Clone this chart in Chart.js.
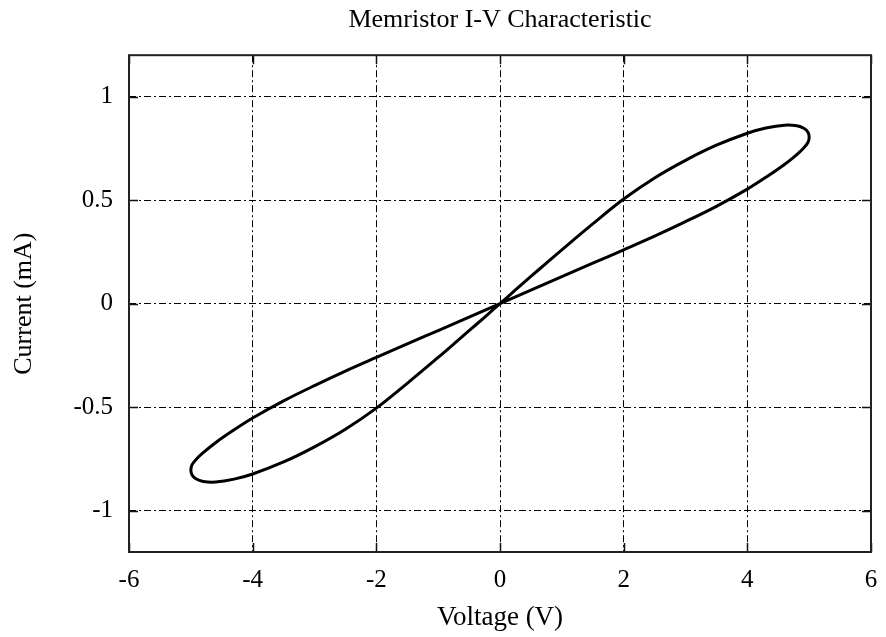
<!DOCTYPE html>
<html>
<head>
<meta charset="utf-8">
<script src="https://cdn.jsdelivr.net/npm/chart.js@4.4.1/dist/chart.umd.min.js"></script>
<style>
  html, body { margin: 0; padding: 0; background: #fff; }
  #wrap { width: 886px; height: 637px; }
</style>
</head>
<body>
<div id="wrap"><canvas id="c" width="886" height="637"></canvas></div>
<script>
// Voltage (V) and current (mA) samples traced along the hysteresis loop
const voltage = [
  0, 0.25, 0.5, 0.75, 1, 1.5, 2, 2.5, 3, 3.5, 4, 4.3, 4.6, 4.8, 4.92, 4.98, 5.0,
  4.98, 4.9, 4.8, 4.6, 4.3, 4, 3.5, 3, 2.5, 2, 1.5, 1, 0.5, 0,
  -0.5, -1, -1.5, -2, -2.5, -3, -3.5, -4, -4.3, -4.6, -4.8, -4.9, -4.98, -5.0,
  -4.98, -4.92, -4.8, -4.6, -4.3, -4, -3.5, -3, -2.5, -2, -1.5, -1, -0.75, -0.5, -0.25, 0
];
const current = [
  0, 0.066, 0.131, 0.196, 0.26, 0.385, 0.505, 0.607, 0.692, 0.765, 0.823, 0.848, 0.862, 0.859, 0.846, 0.828, 0.805,
  0.778, 0.748, 0.72, 0.672, 0.61, 0.553, 0.47, 0.396, 0.326, 0.26, 0.195, 0.13, 0.065, 0,
  -0.065, -0.13, -0.195, -0.26, -0.326, -0.396, -0.47, -0.553, -0.61, -0.672, -0.72, -0.748, -0.778, -0.805,
  -0.828, -0.846, -0.859, -0.862, -0.848, -0.823, -0.765, -0.692, -0.607, -0.505, -0.385, -0.26, -0.196, -0.131, -0.066, 0
];
const xTicks = [-6, -4, -2, 0, 2, 4, 6];
const yTicks = [-1, -0.5, 0, 0.5, 1];

const points = voltage.map((v, i) => ({ x: v, y: current[i] }));
const FONT = "'Liberation Serif', 'DejaVu Serif', serif";

const framePlugin = {
  id: 'frame',
  afterDraw(chart) {
    const { ctx, chartArea: { left, right, top, bottom }, scales } = chart;
    const L = 9;
    ctx.save();
    ctx.strokeStyle = '#111';
    ctx.lineWidth = 1.5;
    ctx.setLineDash([]);
    ctx.beginPath();
    scales.x.ticks.forEach(t => {
      const px = Math.round(scales.x.getPixelForValue(t.value)) + 0.5;
      ctx.moveTo(px, bottom); ctx.lineTo(px, bottom - L);
      ctx.moveTo(px, top); ctx.lineTo(px, top + L);
    });
    scales.y.ticks.forEach(t => {
      const py = Math.round(scales.y.getPixelForValue(t.value)) + 0.5;
      ctx.moveTo(left, py); ctx.lineTo(left + L, py);
      ctx.moveTo(right, py); ctx.lineTo(right - L, py);
    });
    ctx.stroke();
    ctx.lineWidth = 2;
    ctx.strokeStyle = '#222';
    ctx.strokeRect(left, top, right - left, bottom - top);
    ctx.restore();
  }
};

new Chart(document.getElementById('c'), {
  type: 'scatter',
  data: {
    datasets: [{
      data: points,
      showLine: true,
      borderColor: '#000',
      borderWidth: 3,
      pointRadius: 0,
      tension: 0.35,
      fill: false
    }]
  },
  options: {
    responsive: false,
    animation: false,
    layout: { padding: { left: 0, right: 15, top: 0, bottom: 0 } },
    plugins: {
      legend: { display: false },
      tooltip: { enabled: false },
      title: {
        display: true,
        text: 'Memristor I-V Characteristic',
        color: '#000',
        fullSize: false,
        font: { family: FONT, size: 26, weight: 'normal', lineHeight: 1.2 },
        padding: { top: 5, bottom: 19 }
      }
    },
    scales: {
      x: {
        type: 'linear',
        min: -6, max: 6,
        afterBuildTicks: s => { s.ticks = xTicks.map(v => ({ value: v })); },
        afterFit: s => { s.height = 85; s.paddingLeft = 0; s.paddingRight = 0; },
        grid: { color: '#000', lineWidth: 1, drawTicks: false },
        border: { display: false, dash: [7, 3, 2, 3] },
        ticks: {
          color: '#000', padding: 13,
          font: { family: FONT, size: 25 },
          callback: v => String(v)
        },
        title: {
          display: true, text: 'Voltage (V)', color: '#000',
          font: { family: FONT, size: 27, lineHeight: 1.2 },
          padding: { top: 0, bottom: 3 }
        }
      },
      y: {
        type: 'linear',
        min: -1.2, max: 1.2,
        afterBuildTicks: s => { s.ticks = yTicks.map(v => ({ value: v })); },
        afterFit: s => { s.width = 129; s.paddingTop = 0; s.paddingBottom = 0; },
        grid: { color: '#000', lineWidth: 1, drawTicks: false },
        border: { display: false, dash: [7, 3, 2, 3] },
        ticks: {
          color: '#000', padding: 16,
          font: { family: FONT, size: 25 },
          callback: v => String(v)
        },
        title: {
          display: true, text: 'Current (mA)', color: '#000',
          font: { family: FONT, size: 26, lineHeight: 1.2 },
          padding: { top: 9, bottom: 0 }
        }
      }
    }
  },
  plugins: [framePlugin]
});
</script>
</body>
</html>
